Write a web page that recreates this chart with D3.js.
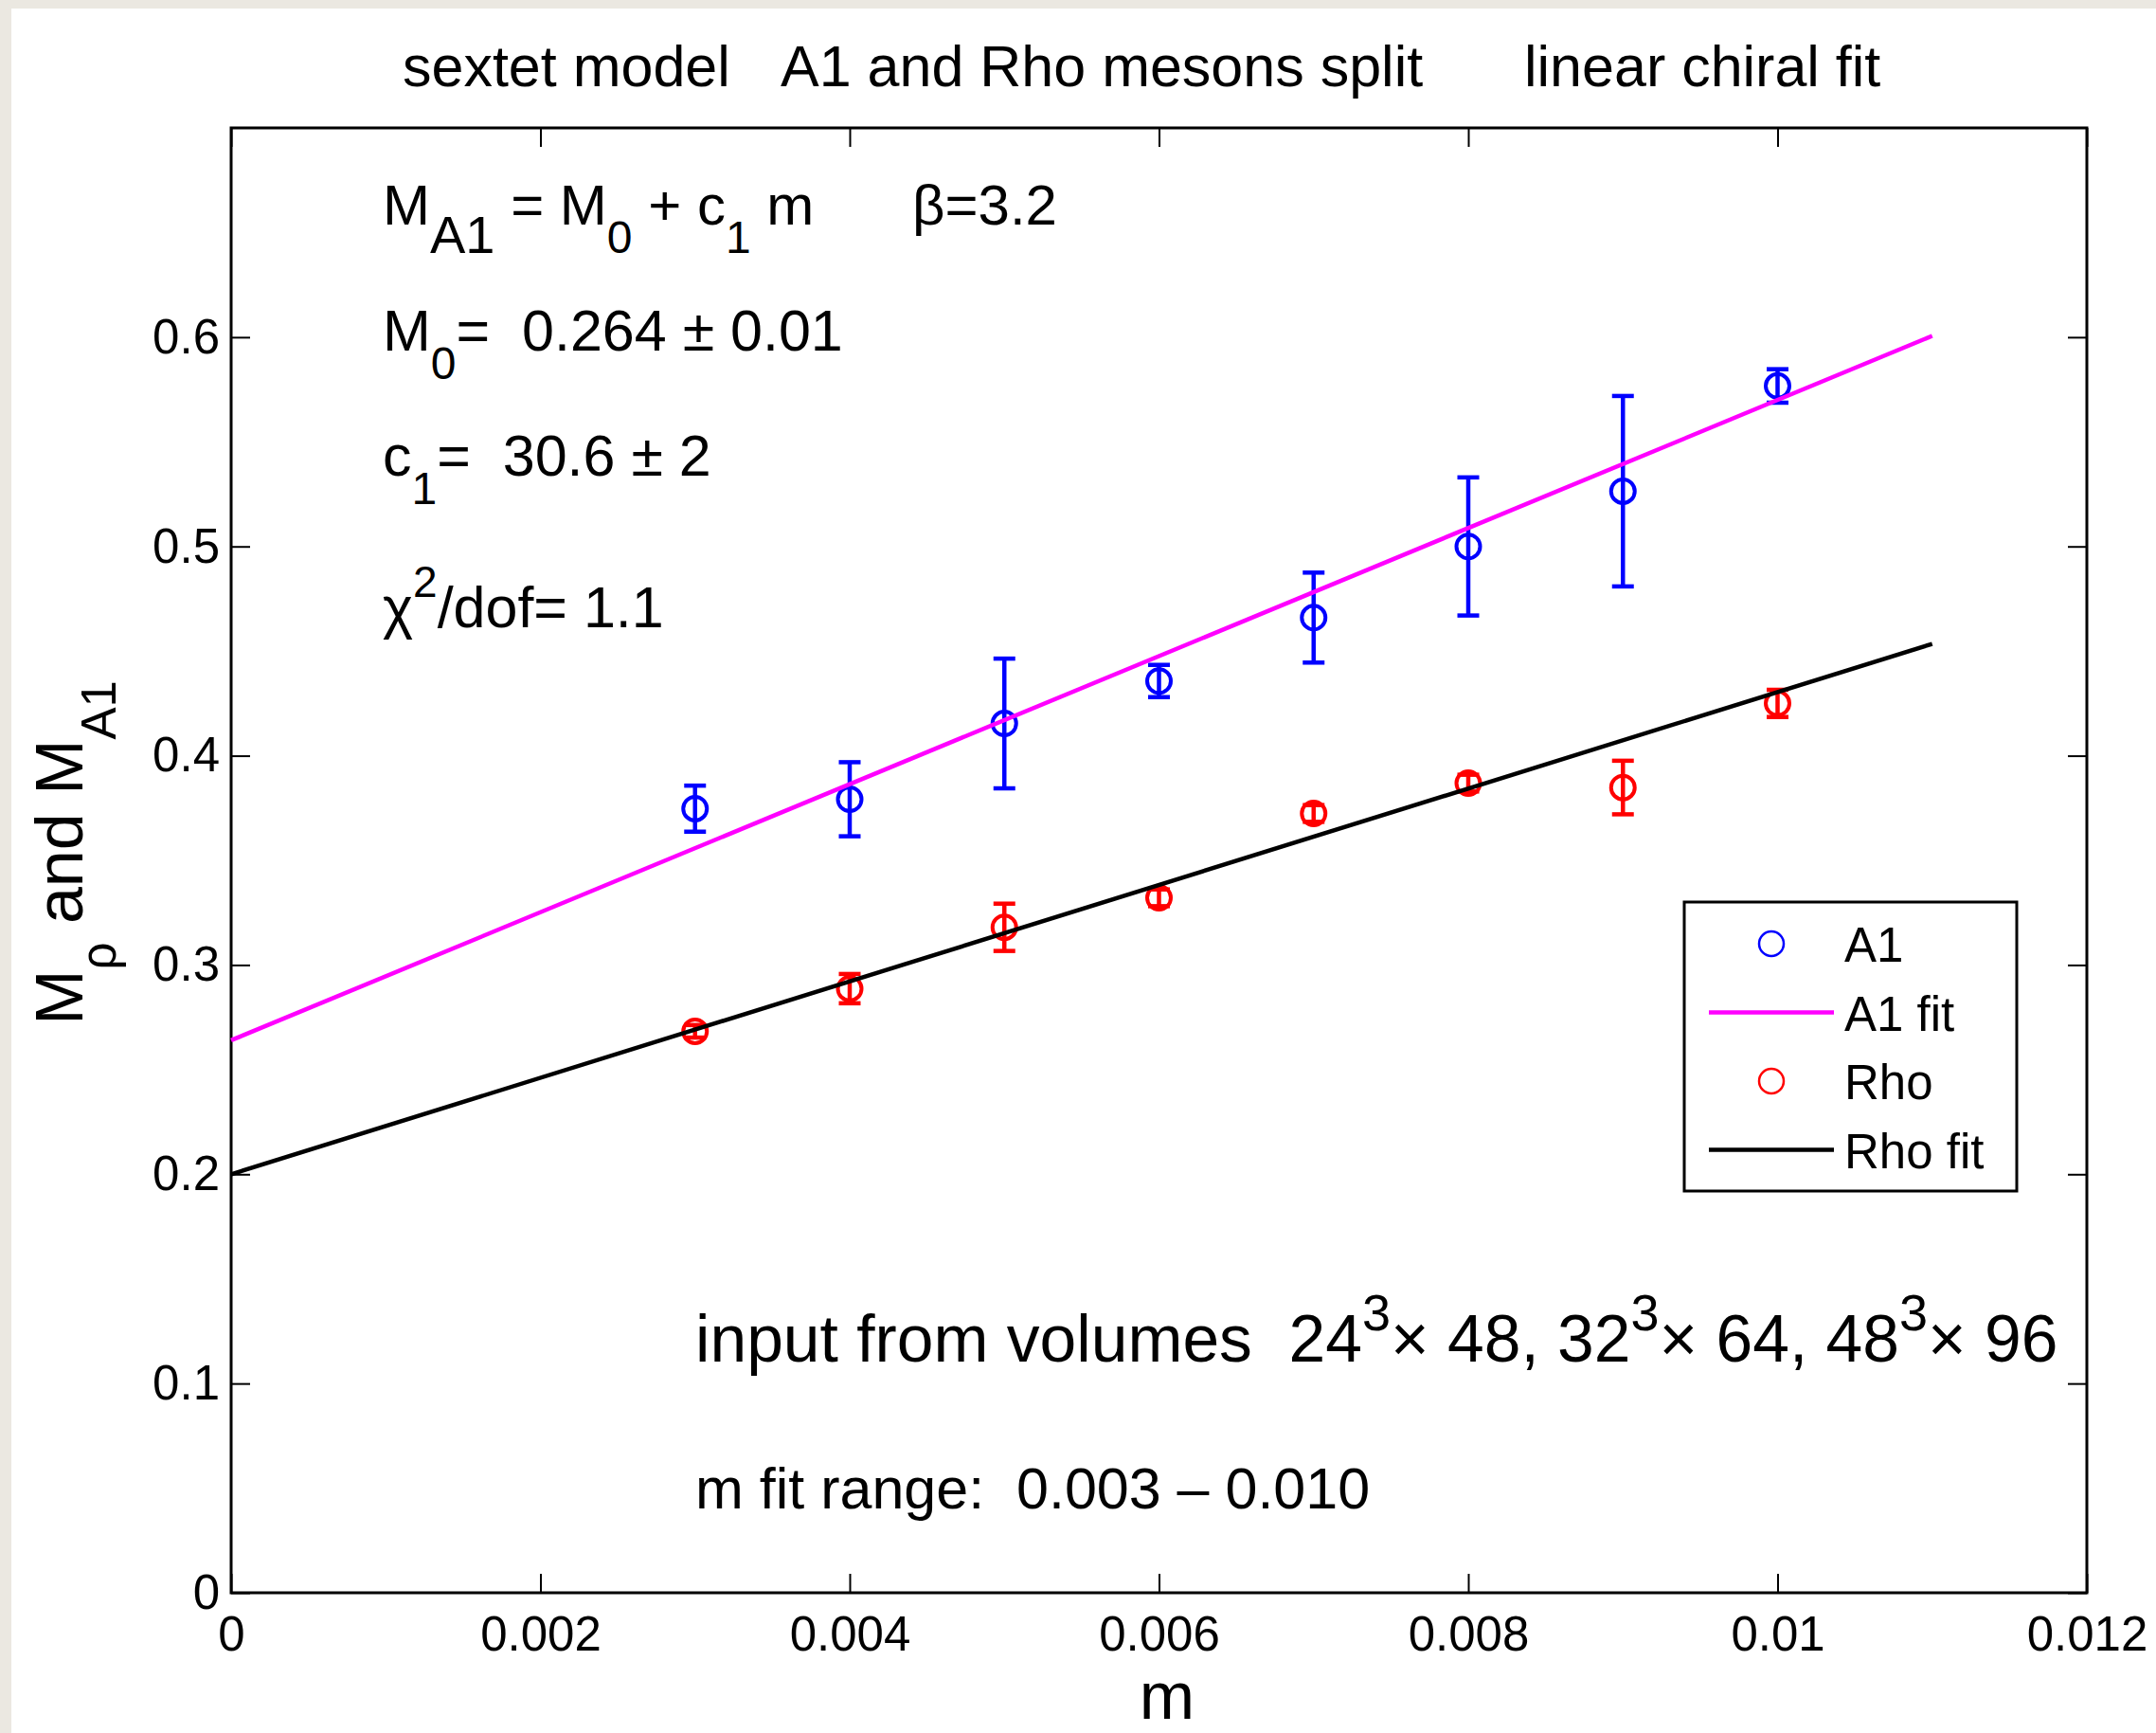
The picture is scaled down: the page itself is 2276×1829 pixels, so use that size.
<!DOCTYPE html>
<html>
<head>
<meta charset="utf-8">
<script src="https://cdn.jsdelivr.net/npm/d3@7"></script>
<style>
  body { margin: 0; background: #fff; }
  svg text { font-family: "Liberation Sans", Arial, Helvetica, sans-serif; white-space: pre; }
</style>
</head>
<body>
<svg id="chart"></svg>
<script>
// data
var masses = [0.003, 0.004, 0.005, 0.006, 0.007, 0.008, 0.009, 0.010];
var a1Mass = [0.3747, 0.3792, 0.4154, 0.4357, 0.4660, 0.5000, 0.5264, 0.5767];
var a1Err  = [0.0110, 0.0177, 0.0310, 0.0077, 0.0215, 0.0330, 0.0455, 0.0080];
var rhoMass = [0.2683, 0.2887, 0.3180, 0.3321, 0.3724, 0.3869, 0.3848, 0.4250];
var rhoErr  = [0.0030, 0.0070, 0.0113, 0.0040, 0.0040, 0.0040, 0.0128, 0.0065];

var fitNames = ["A1 fit", "Rho fit"];
var fitIntercepts = [0.264, 0.200];
var fitSlopes = [30.6, 23.04];
var fitRange = [0, 0.011];

var xTicks = [0, 0.002, 0.004, 0.006, 0.008, 0.010, 0.012];
var xTickLabels = ["0", "0.002", "0.004", "0.006", "0.008", "0.01", "0.012"];
var yTicks = [0, 0.1, 0.2, 0.3, 0.4, 0.5, 0.6];
var yTickLabels = ["0", "0.1", "0.2", "0.3", "0.4", "0.5", "0.6"];

var legendLabels = ["A1", "A1 fit", "Rho", "Rho fit"];

var width = 2276, height = 1829;
var plotL = 244, plotR = 2203, plotT = 135, plotB = 1681;

var svg = d3.select("#chart")
  .attr("width", width)
  .attr("height", height);

// page background + beige border strips
svg.append("rect").attr("width", width).attr("height", height).attr("fill", "#fff");
svg.append("rect").attr("width", 12).attr("height", height).attr("fill", "#ebe8e1");
svg.append("rect").attr("width", width).attr("height", 9).attr("fill", "#ebe8e1");

var x = d3.scaleLinear().domain([0, 0.012]).range([plotL, plotR]);
var y = d3.scaleLinear().domain([0, 0.7]).range([plotB, plotT]);

// axes, ticks pointing inside
svg.append("g")
  .attr("transform", "translate(0," + plotB + ")")
  .call(d3.axisBottom(x).tickValues(xTicks)
    .tickFormat(function(d, i) { return xTickLabels[i]; })
    .tickSizeInner(-20).tickSizeOuter(0).tickPadding(25));
svg.append("g")
  .attr("transform", "translate(0," + plotT + ")")
  .call(d3.axisTop(x).tickValues(xTicks).tickFormat("")
    .tickSizeInner(-20).tickSizeOuter(0));
svg.append("g")
  .attr("transform", "translate(" + plotL + ",0)")
  .call(d3.axisLeft(y).tickValues(yTicks)
    .tickFormat(function(d, i) { return yTickLabels[i]; })
    .tickSizeInner(-20).tickSizeOuter(0).tickPadding(12));
svg.append("g")
  .attr("transform", "translate(" + plotR + ",0)")
  .call(d3.axisRight(y).tickValues(yTicks).tickFormat("")
    .tickSizeInner(-20).tickSizeOuter(0));

svg.selectAll(".domain").remove();
svg.selectAll(".tick line").attr("stroke", "#000").attr("stroke-width", 2);
svg.selectAll(".tick text")
  .attr("fill", "#000")
  .style("font-size", "51px")
  .style("font-family", "'Liberation Sans', Arial, sans-serif");

// frame
svg.append("rect")
  .attr("x", plotL).attr("y", plotT)
  .attr("width", plotR - plotL).attr("height", plotB - plotT)
  .attr("fill", "none").attr("stroke", "#000").attr("stroke-width", 3);

function drawSeries(vals, errs, color) {
  var g = svg.append("g");
  var pts = masses.map(function(m, i) { return { m: m, v: vals[i], e: errs[i] }; });
  g.selectAll("line.bar").data(pts).enter().append("line")
    .attr("x1", function(d) { return x(d.m); })
    .attr("x2", function(d) { return x(d.m); })
    .attr("y1", function(d) { return y(d.v - d.e); })
    .attr("y2", function(d) { return y(d.v + d.e); })
    .attr("stroke", color).attr("stroke-width", 4.5);
  [-1, 1].forEach(function(s) {
    g.selectAll(null).data(pts).enter().append("line")
      .attr("x1", function(d) { return x(d.m) - 11.5; })
      .attr("x2", function(d) { return x(d.m) + 11.5; })
      .attr("y1", function(d) { return y(d.v + s * d.e); })
      .attr("y2", function(d) { return y(d.v + s * d.e); })
      .attr("stroke", color).attr("stroke-width", 4.5);
  });
  g.selectAll("circle").data(pts).enter().append("circle")
    .attr("cx", function(d) { return x(d.m); })
    .attr("cy", function(d) { return y(d.v); })
    .attr("r", 12.5)
    .attr("fill", "none").attr("stroke", color).attr("stroke-width", 4);
}

function drawFit(i, color) {
  svg.append("line")
    .attr("x1", x(fitRange[0])).attr("y1", y(fitIntercepts[i] + fitSlopes[i] * fitRange[0]))
    .attr("x2", x(fitRange[1])).attr("y2", y(fitIntercepts[i] + fitSlopes[i] * fitRange[1]))
    .attr("stroke", color).attr("stroke-width", 4.5);
}

drawSeries(a1Mass, a1Err, "#0000ff");
drawFit(0, "#ff00ff");
drawSeries(rhoMass, rhoErr, "#ff0000");
drawFit(1, "#000000");

// legend
var lg = svg.append("g");
lg.append("rect").attr("x", 1778).attr("y", 952).attr("width", 351).attr("height", 305)
  .attr("fill", "#fff").attr("stroke", "#000").attr("stroke-width", 3);
var legendColors = ["#0000ff", "#ff00ff", "#ff0000", "#000000"];
legendLabels.forEach(function(lab, i) {
  var cy = 996 + i * 72.5;
  if (i % 2 === 0) {
    lg.append("circle").attr("cx", 1870).attr("cy", cy).attr("r", 13)
      .attr("fill", "none").attr("stroke", legendColors[i]).attr("stroke-width", 2.5);
  } else {
    lg.append("line").attr("x1", 1804).attr("x2", 1936).attr("y1", cy).attr("y2", cy)
      .attr("stroke", legendColors[i]).attr("stroke-width", 4.5);
  }
  lg.append("text").attr("x", 1947).attr("y", cy + 19)
    .style("font-size", "51px").text(lab);
});

// title
var title = svg.append("g").style("font-size", "61px");
title.append("text").attr("x", 425).attr("y", 91).text("sextet model");
title.append("text").attr("x", 824).attr("y", 91).text("A1 and Rho mesons split");
title.append("text").attr("x", 1609).attr("y", 91).text("linear chiral fit");

// axis labels
svg.append("text").attr("x", 1232).attr("y", 1814)
  .attr("text-anchor", "middle").style("font-size", "70px").text("m");

var yl = svg.append("text")
  .attr("transform", "translate(87,900) rotate(-90)")
  .attr("text-anchor", "middle").style("font-size", "70px");
yl.append("tspan").text("M");
yl.append("tspan").attr("dy", 35).style("font-size", "51px").text("\u03c1");
yl.append("tspan").attr("dy", -35).text(" and M");
yl.append("tspan").attr("dy", 35).style("font-size", "51px").text("A1");

// fit annotations
function richText(xp, yp, size, parts) {
  var t = svg.append("text").attr("x", xp).attr("y", yp).style("font-size", size + "px");
  var shift = 0;
  parts.forEach(function(p) {
    var s = p[1] || 0;
    var ts = t.append("tspan").attr("dy", s - shift).text(p[0]);
    if (p[2]) ts.style("font-size", p[2] + "px");
    shift = s;
  });
  return t;
}

richText(404, 237, 60, [["M"], ["A1", 30, 56], [" = M", 0], ["0", 30, 48], [" + c", 0], ["1", 30, 48], [" m", 0]]);
richText(963, 237, 60, [["\u03b2=3.2"]]);
richText(404, 370, 61, [["M"], ["0", 30, 48], ["=  0.264 \u00b1 0.01", 0]]);
richText(404, 502, 61, [["c"], ["1", 30, 48], ["=  30.6 \u00b1 2", 0]]);
richText(404, 662, 61, [["\u03c7"], ["2", -32, 46], ["/dof= 1.1", 0]]);

richText(734, 1437, 69.6, [["input from volumes  24"], ["3", -33, 54], ["\u00d7 48, 32", 0],
  ["3", -33, 54], ["\u00d7 64, 48", 0], ["3", -33, 54], ["\u00d7 96", 0]]);
richText(734, 1592, 61, [["m fit range:  0.003 \u2013 0.010"]]);
</script>
</body>
</html>
